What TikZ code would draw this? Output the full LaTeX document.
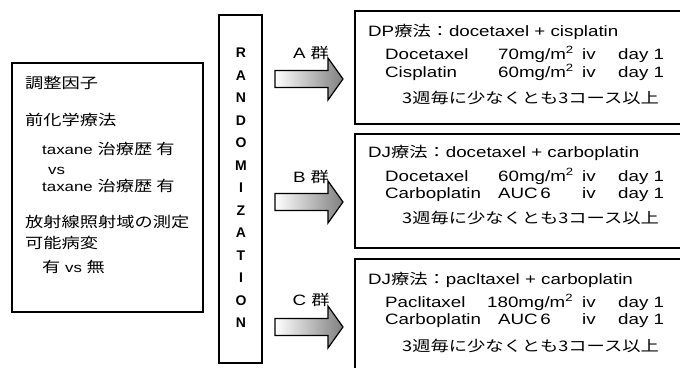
\documentclass[tikz,border=0pt]{standalone}
\usepackage{fontspec}
\setmainfont{Liberation Sans}
\newfontfamily\latf{Liberation Sans}[FakeStretch=1.25]
\newfontfamily\cjkfont{Noto Sans CJK JP}[FakeStretch=1.25]
\newcommand{\jp}[1]{{\cjkfont\fontsize{14.6}{17}\selectfont #1}}
\newcommand{\msq}{mg/m\textsuperscript{2}}
\tikzset{
  box/.style={draw, line width=1.4pt, fill=white},
  txt/.style={anchor=west, inner sep=0pt, text height=11pt, text depth=3pt, font=\latf\fontsize{15}{18}\selectfont},
  ltxt/.style={txt, font=\latf\fontsize{13.5}{18}\selectfont},
  rl/.style={inner sep=0pt, font=\fontsize{14}{16}\selectfont\bfseries},
  blk/.style={draw, line width=1.2pt, left color=white, right color=black!50},
}
\newcommand{\blockarrow}[1]{\path[blk] (#1) ++(0,-8.5) -- ++(53,0) -- ++(0,-12.5) -- ++(15,21) -- ++(-15,21) -- ++(0,-12.5) -- ++(-53,0) -- cycle;}
\begin{document}
\begin{tikzpicture}[x=1pt,y=-1pt]
\useasboundingbox (0,0) rectangle (680,367);
\clip (0,0) rectangle (680,367);
\fill[white] (0,0) rectangle (680,367);

% left box
\draw[box] (12,63) rectangle (203,312);
\node[ltxt] (f1) at (25,84) {\jp{調整因子}};
\node[ltxt] (f2) at (25,121) {\jp{前化学療法}};
\node[ltxt] (f3) at (42,150) {taxane \jp{治療歴 有}};
\node[ltxt] (f4) at (48,170) {vs};
\node[ltxt] (f5) at (42,187) {taxane \jp{治療歴 有}};
\node[ltxt] (f6) at (25,223) {\jp{放射線照射域の測定}};
\node[ltxt] (f7) at (25,244) {\jp{可能病変}};
\node[ltxt] (f8) at (42,268) {\jp{有} vs \jp{無}};

% randomization
\draw[box] (219,15) rectangle (262,363);
\foreach \ch [count=\i] in {R,A,N,D,O,M,I,Z,A,T,I,O,N}{
  \node[rl] (r\i) at (241,{53+(\i-1)*22.5}) {\ch};
}

% arrows
\coordinate (aA) at (275,79);
\coordinate (aB) at (275,202);
\coordinate (aC) at (275,327);
\blockarrow{aA}
\blockarrow{aB}
\blockarrow{aC}
\node[inner sep=0pt, font=\latf\fontsize{15}{18}\selectfont] (gA) at (311,53) {A \jp{群}};
\node[inner sep=0pt, font=\latf\fontsize{15}{18}\selectfont] (gB) at (311,177) {B \jp{群}};
\node[inner sep=0pt, font=\latf\fontsize{15}{18}\selectfont] (gC) at (311,300) {C \jp{群}};

% right boxes
\draw[box] (355,11) rectangle (700,124);
\draw[box] (355,134) rectangle (700,248);
\draw[box] (355,259) rectangle (700,380);

% box A
\node[txt] (a0) at (368,32) {DP\jp{療法：}docetaxel + cisplatin};
\node[txt] (a1) at (385,55) {Docetaxel};
\node[txt] (a2) at (498,55) {70\msq};
\node[txt] (a3) at (582,55) {iv};
\node[txt] (a4) at (618,55) {day 1};
\node[txt] (a5) at (385,73) {Cisplatin};
\node[txt] (a6) at (498,73) {60\msq};
\node[txt] (a7) at (582,73) {iv};
\node[txt] (a8) at (618,73) {day 1};
\node[txt] (a9) at (402,99) {\jp{3週毎に少なくとも3コース以上}};

% box B
\node[txt] (b0) at (368,153) {DJ\jp{療法：}docetaxel + carboplatin};
\node[txt] (b1) at (385,177) {Docetaxel};
\node[txt] (b2) at (498,177) {60\msq};
\node[txt] (b3) at (582,177) {iv};
\node[txt] (b4) at (618,177) {day 1};
\node[txt] (b5) at (385,194) {Carboplatin};
\node[txt] (b6) at (498,194) {AUC\,6};
\node[txt] (b7) at (582,194) {iv};
\node[txt] (b8) at (618,194) {day 1};
\node[txt] (b9) at (402,219) {\jp{3週毎に少なくとも3コース以上}};

% box C
\node[txt] (c0) at (368,280) {DJ\jp{療法：}pacltaxel + carboplatin};
\node[txt] (c1) at (385,303) {Paclitaxel};
\node[txt] (c2) at (487,303) {180\msq};
\node[txt] (c3) at (582,303) {iv};
\node[txt] (c4) at (618,303) {day 1};
\node[txt] (c5) at (385,320) {Carboplatin};
\node[txt] (c6) at (498,320) {AUC\,6};
\node[txt] (c7) at (582,320) {iv};
\node[txt] (c8) at (618,320) {day 1};
\node[txt] (c9) at (402,347) {\jp{3週毎に少なくとも3コース以上}};
\end{tikzpicture}
\end{document}
